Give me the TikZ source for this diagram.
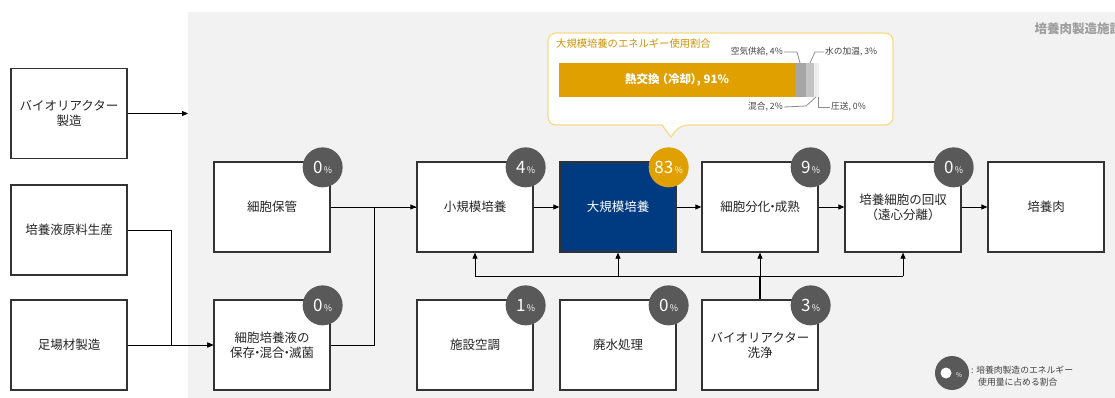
\documentclass[tikz,border=0pt]{standalone}
\usepackage{fontspec}
\setmainfont{Noto Sans CJK JP}
\usetikzlibrary{arrows.meta,calc}
\definecolor{bg}{HTML}{F2F2F2}
\definecolor{bdr}{HTML}{333333}
\definecolor{badgegray}{HTML}{595959}
\definecolor{orng}{HTML}{DFA000}
\definecolor{navy}{HTML}{003B82}
\definecolor{callbdr}{HTML}{F8D98A}
\definecolor{seg1}{HTML}{A6A6A6}
\definecolor{seg2}{HTML}{C4C4C4}
\definecolor{seg3}{HTML}{EDEDED}
\definecolor{lbl}{HTML}{404040}
\definecolor{lead}{HTML}{8C8C8C}
\tikzset{
  box/.style={draw=bdr, line width=1.3pt, fill=white, minimum width=116pt, minimum height=90pt, inner sep=0pt, align=center, font=\fontsize{12.5}{15}\selectfont, text=black!85},
  badge/.style={circle, fill=badgegray, minimum size=40pt, inner sep=0pt, text=white},
  arr/.style={draw=black, line width=0.8pt, -{Triangle[length=6pt,width=5pt]}},
  conn/.style={draw=black, line width=0.8pt},
  lab/.style={font=\fontsize{8.7}{10}\selectfont, text=lbl, inner sep=1pt},
  leader/.style={draw=lead, line width=0.8pt}
}
\newcommand{\pct}[1]{{\fontsize{17}{17}\selectfont #1}{\fontsize{9}{9}\selectfont\,\%}}
\newcommand{\ndot}{\kern-0.32em・\kern-0.32em}
\begin{document}
\begin{tikzpicture}[x=1pt,y=-1pt]
\useasboundingbox (0,0) rectangle (1115,398);
\fill[bg] (188,12) rectangle (1115,398);
\node[anchor=west, font=\fontsize{12.5}{14}\selectfont\bfseries, text=black!38] (facility) at (1031,29) {培養肉製造施設};

% left boxes
\node[box] (brm) at (69,113.5) {バイオリアクター\\製造};
\node[box] (med) at (69,230) {培養液原料生産};
\node[box] (scf) at (69,345) {足場材製造};

% main row
\node[box] (cs) at (272,207) {細胞保管};
\node[box] (mix) at (272,345) {細胞培養液の\\保存\ndot 混合\ndot 滅菌};
\node[box] (sm) at (475,207) {小規模培養};
\node[box, fill=navy, text=white] (lg) at (618,207) {大規模培養};
\node[box] (dif) at (760,207) {細胞分化\ndot 成熟};
\node[box] (rec) at (903,207) {培養細胞の回収\\（遠心分離）};
\node[box] (meat) at (1046,207) {培養肉};

% bottom row
\node[box] (ac) at (475,345) {施設空調};
\node[box] (ww) at (618,345) {廃水処理};
\node[box] (wash) at (760,345) {バイオリアクター\\洗浄};

% badges
\node[badge] (bcs) at ($(cs.north east)+(-8,6)$) {\pct{0}};
\node[badge] (bmix) at ($(mix.north east)+(-8,6)$) {\pct{0}};
\node[badge] (bsm) at ($(sm.north east)+(-8,6)$) {\pct{4}};
\node[badge, fill=orng] (blg) at ($(lg.north east)+(-8,6)$) {\pct{83}};
\node[badge] (bdif) at ($(dif.north east)+(-8,6)$) {\pct{9}};
\node[badge] (brec) at ($(rec.north east)+(-8,6)$) {\pct{0}};
\node[badge] (bac) at ($(ac.north east)+(-8,6)$) {\pct{1}};
\node[badge] (bww) at ($(ww.north east)+(-8,6)$) {\pct{0}};
\node[badge] (bwash) at ($(wash.north east)+(-8,6)$) {\pct{3}};

% connectors
\coordinate (bgedge) at (188,113.5);
\draw[arr] (brm.east) -- (bgedge);
\draw[arr] (med.east) -- ++(44,0) |- (mix.west);
\draw[arr] (scf.east) -- (mix.west);
\draw[arr] (cs.east) -- (sm.west);
\draw[conn] (mix.east) -- ++(44,0) |- (sm.west);
\draw[arr] (sm.east) -- (lg.west);
\draw[arr] (lg.east) -- (dif.west);
\draw[arr] (dif.east) -- (rec.west);
\draw[arr] (rec.east) -- (meat.west);
\coordinate (j) at (760,276);
\draw[conn, line width=1.6pt] (wash.north) -- (j);
\draw[conn] (sm.south |- j) -- (rec.south |- j);
\draw[arr] (sm.south |- j) -- (sm.south);
\draw[arr] (lg.south |- j) -- (lg.south);
\draw[arr] (dif.south |- j) -- (dif.south);
\draw[arr] (rec.south |- j) -- (rec.south);

% callout
\draw[draw=callbdr, line width=1.2pt, fill=white]
  (600,33) [rounded corners=8pt] -- (893,33) -- (893,125) -- (680,125) [sharp corners] -- (671,137) -- (662,125) [rounded corners=8pt] -- (548,125) -- (548,33) -- cycle;
\node[anchor=west, font=\fontsize{10.3}{12}\selectfont, text=orng!92!black, inner sep=0pt] (ctitle) at (556,44) {大規模培養のエネルギー使用割合};
\fill[orng] (559,63) rectangle (795,97);
\fill[seg1] (795,63) rectangle (805.5,97);
\fill[seg2] (805.5,63) rectangle (813.5,97);
\fill[seg3] (813.5,63) rectangle (819,97);
\node[font=\fontsize{11.5}{13}\selectfont\bfseries, text=white] (heat) at (677,80) {熱交換\kern-0.25em（冷却\kern-0.05em）\kern-0.45em, 91\%};
\node[lab, anchor=east] (air) at (784,52) {空気供給, 4\%};
\node[lab, anchor=west] (wat) at (824,52) {水の加温, 3\%};
\node[lab, anchor=east] (mx) at (784,107) {混合, 2\%};
\node[lab, anchor=west] (prs) at (830,107) {圧送, 0\%};
\draw[leader] (air.east) -- (797,52) -- (800,63);
\draw[leader] (wat.west) -- (815,52) -- (810,63);
\draw[leader] (mx.east) -- (806,106) -- (816,97);
\draw[leader] (818,97) -- (818,107) -- (prs.west);

% legend
\node[circle, fill=badgegray, minimum size=34pt, inner sep=0pt] (leg) at (952,373) {};
\fill[white] (946,373) circle (5.5pt);
\node[font=\fontsize{6.5}{7}\selectfont, text=white, inner sep=0pt] (legp) at (959,375) {\%};
\node[anchor=west, align=left, font=\fontsize{8.8}{12}\selectfont, text=lbl, inner sep=0pt] (legt) at (971,376) {: 培養肉製造のエネルギー\\\hspace*{7pt}使用量に占める割合};
\end{tikzpicture}
\end{document}
